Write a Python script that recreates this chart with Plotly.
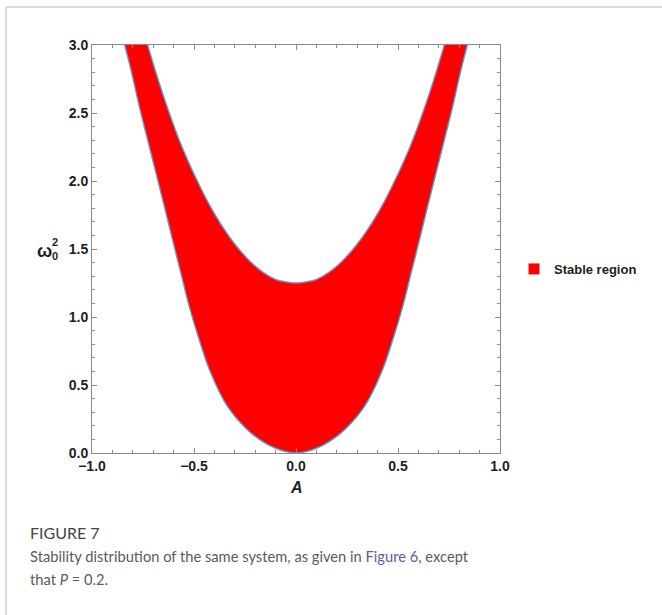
import plotly.graph_objects as go

# Lower boundary of the stable region (minimum 0 at A = 0)
lower_A = [-0.840, -0.805, -0.768, -0.727, -0.686, -0.645, -0.605, -0.564, -0.523, -0.474, -0.417, -0.335,
           -0.245, -0.163, -0.100, -0.050,
           0.0,
           0.050, 0.100, 0.163, 0.245, 0.335, 0.417, 0.474, 0.523, 0.564, 0.605, 0.645, 0.686, 0.727,
           0.768, 0.805, 0.840]
lower_w = [3.0, 2.792, 2.547, 2.301, 2.056, 1.811, 1.566, 1.321, 1.076, 0.831, 0.586, 0.341,
           0.181, 0.083, 0.035, 0.010,
           0.0,
           0.010, 0.035, 0.083, 0.181, 0.341, 0.586, 0.831, 1.076, 1.321, 1.566, 1.811, 2.056, 2.301,
           2.547, 2.792, 3.0]

# Upper boundary of the stable region (minimum 1.25 at A = 0)
upper_A = [-0.727, -0.654, -0.572, -0.490, -0.408, -0.327, -0.245, -0.163, -0.098, -0.050,
           0.0,
           0.050, 0.098, 0.163, 0.245, 0.327, 0.408, 0.490, 0.572, 0.654, 0.727]
upper_w = [3.0, 2.645, 2.30, 2.02, 1.78, 1.59, 1.44, 1.33, 1.275, 1.258,
           1.25,
           1.258, 1.275, 1.33, 1.44, 1.59, 1.78, 2.02, 2.30, 2.645, 3.0]

x_ticks = [-1.0, -0.5, 0.0, 0.5, 1.0]
y_ticks = [0.0, 0.5, 1.0, 1.5, 2.0, 2.5, 3.0]

RED = "#ff0000"
EDGE = "#5f9bd0"
INK = "#1e1e1e"

fig = go.Figure()
fig.add_trace(go.Scatter(x=lower_A, y=lower_w, mode="lines",
                         line=dict(color=EDGE, width=1.4, shape="spline", smoothing=1.2),
                         showlegend=False, hoverinfo="skip"))
fig.add_trace(go.Scatter(x=upper_A, y=upper_w, mode="lines", fill="tonexty", fillcolor=RED,
                         line=dict(color=EDGE, width=1.4, shape="spline", smoothing=1.2),
                         showlegend=False, hoverinfo="skip"))
fig.add_trace(go.Scatter(x=[None], y=[None], mode="markers", name="Stable region",
                         marker=dict(symbol="square", size=11, color=RED)))

W, H = 662, 615
L, R, T, B = 92, 500, 45, 453  # plot area in screenshot pixels
pw, ph = R - L, B - T


def px(x):
    return (x - L) / pw


def py(y):
    return (B - y) / ph


axis_common = dict(
    showline=True, linecolor="#8a8a8a", linewidth=1, mirror="allticks",
    ticks="inside", ticklen=5, tickcolor="#8a8a8a", tickwidth=1,
    showgrid=False, zeroline=False, tickformat=".1f",
    tickfont=dict(family="Liberation Sans, Arial", size=14, color=INK, weight="bold"),
    minor=dict(ticks="inside", ticklen=3, tickcolor="#8a8a8a", dtick=0.1, showgrid=False),
)

fig.update_layout(
    width=W, height=H,
    margin=dict(l=L, r=W - R, t=T, b=H - B),
    paper_bgcolor="white", plot_bgcolor="white",
    xaxis=dict(range=[-1, 1], tickvals=x_ticks, **axis_common),
    yaxis=dict(range=[0, 3], tickvals=y_ticks, **axis_common),
    legend=dict(x=px(514), y=py(269), xanchor="left", yanchor="middle",
                font=dict(family="Liberation Sans, Arial", size=13, color=INK, weight="bold"),
                bgcolor="rgba(0,0,0,0)"),
    shapes=[
        dict(type="line", xref="paper", yref="paper", x0=px(6), x1=px(662), y0=py(7), y1=py(7),
             line=dict(color="#d0d0d0", width=1.5)),
        dict(type="line", xref="paper", yref="paper", x0=px(6), x1=px(6), y0=py(7), y1=py(615),
             line=dict(color="#d0d0d0", width=1.5)),
    ],
)

ann = []
ann.append(dict(text="ω", x=px(44), y=py(251), xref="paper", yref="paper", showarrow=False,
                xanchor="center", yanchor="middle",
                font=dict(family="Liberation Sans, Arial", size=18, color=INK, weight="bold")))
ann.append(dict(text="2", x=px(55), y=py(242), xref="paper", yref="paper", showarrow=False,
                xanchor="center", yanchor="middle",
                font=dict(family="Liberation Sans, Arial", size=11, color=INK, weight="bold")))
ann.append(dict(text="0", x=px(55), y=py(256), xref="paper", yref="paper", showarrow=False,
                xanchor="center", yanchor="middle",
                font=dict(family="Liberation Sans, Arial", size=11, color=INK, weight="bold")))
ann.append(dict(text="<b><i>A</i></b>", x=px(296), y=py(488), xref="paper", yref="paper", showarrow=False,
                xanchor="center", yanchor="middle",
                font=dict(family="Liberation Sans, Arial", size=16, color=INK)))
cap_font = dict(family="Lato", size=14.7, color="#5a5a5a")
ann.append(dict(text="FIGURE 7", x=px(28), y=py(532), xref="paper", yref="paper", showarrow=False,
                xanchor="left", yanchor="middle", font=dict(family="Lato", size=16, color="#444444")))
ann.append(dict(text='Stability distribution of the same system, as given in <span style="color:#5b5ba8">Figure 6</span>, except',
                x=px(28), y=py(556), xref="paper", yref="paper", showarrow=False,
                xanchor="left", yanchor="middle", font=cap_font))
ann.append(dict(text="that <i>P</i> = 0.2.", x=px(28), y=py(579), xref="paper", yref="paper", showarrow=False,
                xanchor="left", yanchor="middle", font=cap_font))
fig.update_layout(annotations=ann)

fig.write_html("out.html", config={"displayModeBar": False},
               post_script="document.body.style.margin='0';document.body.style.overflow='hidden';")
